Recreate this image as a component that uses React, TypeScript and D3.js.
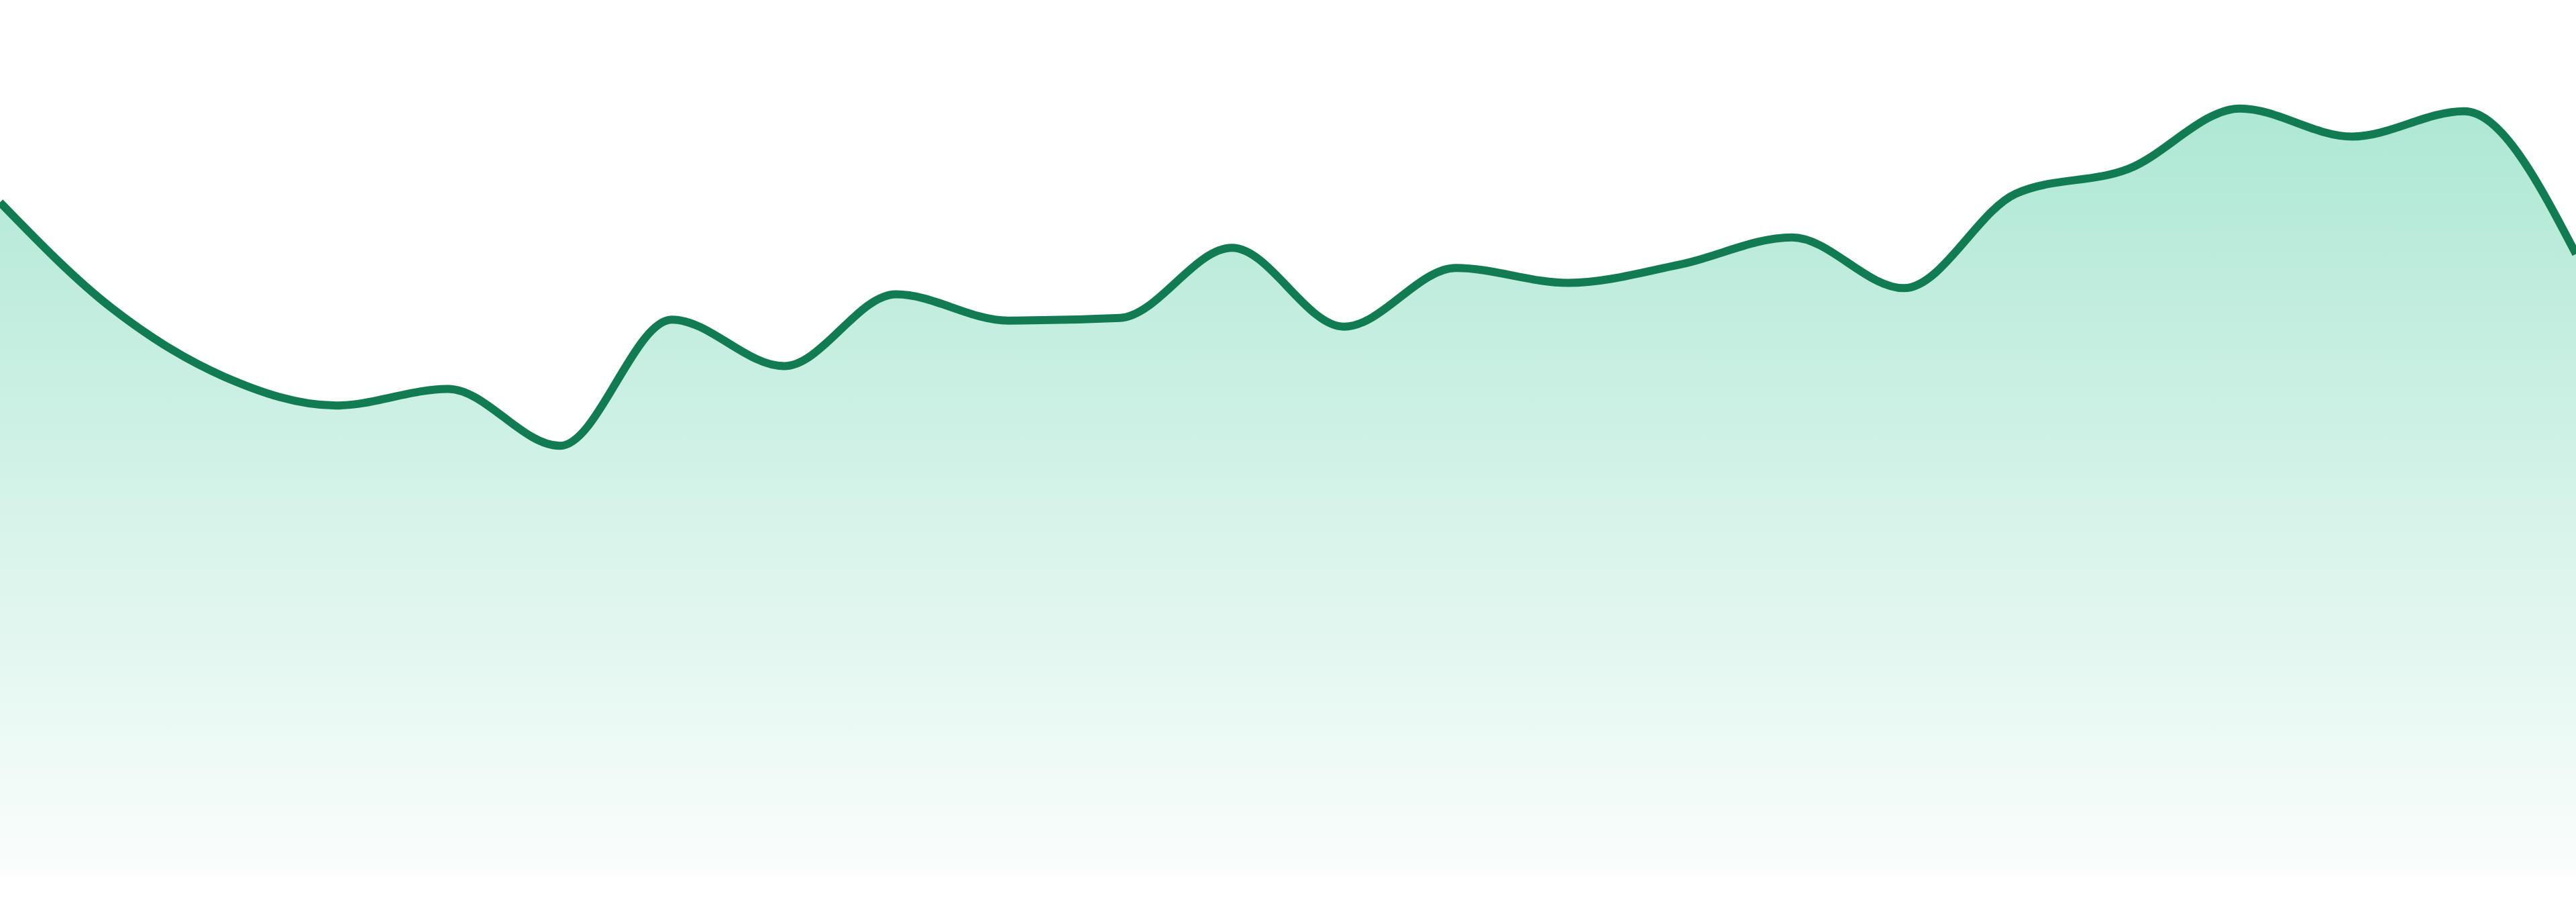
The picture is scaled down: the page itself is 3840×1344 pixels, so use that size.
import React from 'react';
import * as d3 from 'd3';

const WIDTH = 3840;
const HEIGHT = 1344;

// one reading per step
const steps = d3.range(24);
const values = [
  76.9, 64.8, 57.0, 53.7, 55.6, 49.1, 63.5, 58.2, 66.4, 63.4, 63.7, 71.7,
  62.7, 69.4, 67.7, 69.8, 72.9, 67.1, 77.9, 80.7, 87.6, 84.4, 87.3, 71.0,
];

const App: React.FC = () => {
  const x = d3.scaleLinear().domain([0, steps.length - 1]).range([0, WIDTH]);
  const y = d3.scaleLinear().domain([0, 100]).range([1305, 0]);

  const data = steps.map((s, i) => ({ s, v: values[i] }));

  const area = d3.area<{ s: number; v: number }>()
    .x(d => x(d.s))
    .y0(y(0))
    .y1(d => y(d.v))
    .curve(d3.curveMonotoneX);

  const line = d3.line<{ s: number; v: number }>()
    .x(d => x(d.s))
    .y(d => y(d.v))
    .curve(d3.curveMonotoneX);

  return (
    <svg
      width={WIDTH}
      height={HEIGHT}
      style={{ position: 'fixed', left: 0, top: 0, display: 'block', background: '#fff' }}
    >
      <defs>
        <linearGradient id="areaFill" x1="0" y1="0" x2="0" y2="1">
          <stop offset="0%" stopColor="#10b981" stopOpacity={0.34} />
          <stop offset="100%" stopColor="#10b981" stopOpacity={0.02} />
        </linearGradient>
      </defs>
      <path d={area(data) || ''} fill="url(#areaFill)" />
      <path d={line(data) || ''} fill="none" stroke="#117c52" strokeWidth={12} />
    </svg>
  );
};

export default App;
